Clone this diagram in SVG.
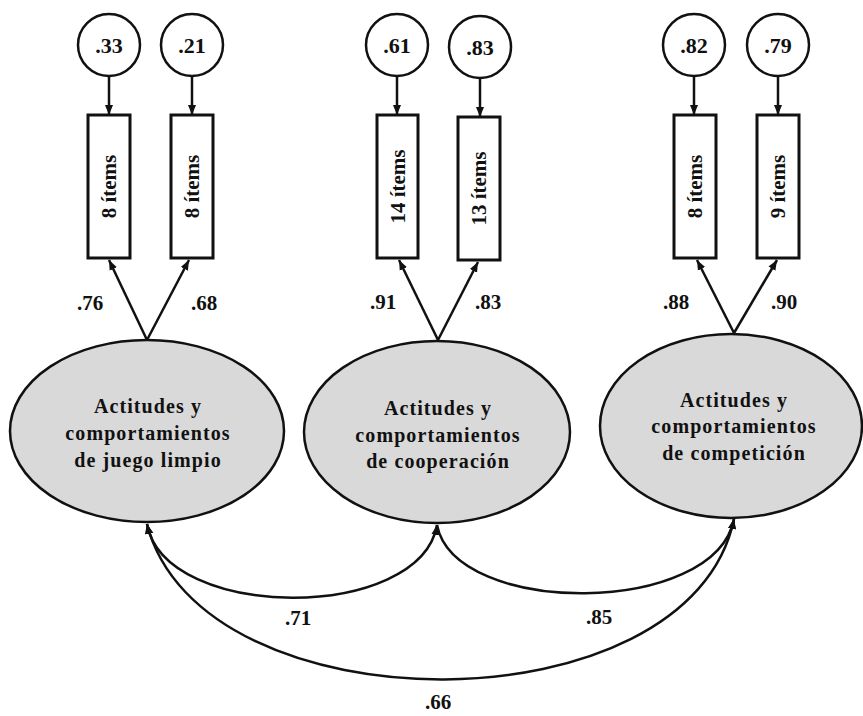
<svg xmlns="http://www.w3.org/2000/svg" width="863" height="716" viewBox="0 0 863 716">
<defs>
<style>
.t{font-family:"Liberation Serif","Times New Roman",serif;font-weight:bold;fill:#111;text-anchor:middle}
.c{fill:#fff;stroke:#111;stroke-width:2.5}
.b{fill:#fff;stroke:#111;stroke-width:3}
.e{fill:#d9d9d9;stroke:#111;stroke-width:2.5}
.a{fill:none;stroke:#111;stroke-width:2.5}
.num{font-size:22px}
.lab{font-size:21px}
.box{font-size:21px}
.el{font-size:20px;letter-spacing:1.1px}
</style>
<marker id="ah" viewBox="0 0 10 10" refX="10" refY="5" markerWidth="10" markerHeight="10" markerUnits="userSpaceOnUse" orient="auto-start-reverse">
<path d="M0,1 L10,5 L0,9 Z" fill="#111"/>
</marker>
</defs>
<rect width="863" height="716" fill="#fff"/>

<g id="connectors">
<line class="a" x1="109" y1="76" x2="109" y2="115" marker-end="url(#ah)"/>
<line class="a" x1="192" y1="76" x2="192" y2="115" marker-end="url(#ah)"/>
<line class="a" x1="397" y1="76" x2="397" y2="115" marker-end="url(#ah)"/>
<line class="a" x1="480" y1="78" x2="480" y2="117" marker-end="url(#ah)"/>
<line class="a" x1="694" y1="76" x2="694" y2="115" marker-end="url(#ah)"/>
<line class="a" x1="778" y1="76" x2="778" y2="115" marker-end="url(#ah)"/>
<line class="a" x1="147" y1="340" x2="109" y2="260" marker-end="url(#ah)"/>
<line class="a" x1="147" y1="340" x2="189" y2="260" marker-end="url(#ah)"/>
<line class="a" x1="438" y1="340" x2="399" y2="260" marker-end="url(#ah)"/>
<line class="a" x1="438" y1="340" x2="478" y2="262" marker-end="url(#ah)"/>
<line class="a" x1="734" y1="333" x2="697" y2="260" marker-end="url(#ah)"/>
<line class="a" x1="734" y1="333" x2="777" y2="260" marker-end="url(#ah)"/>
<path class="a" d="M147,524 C165,622 420,622 437,525" marker-start="url(#ah)" marker-end="url(#ah)"/>
<path class="a" d="M437,525 C455,617 715,617 734,519" marker-end="url(#ah)"/>
<path class="a" d="M147,524 C200,732 690,732 734,519" marker-start="url(#ah)" marker-end="url(#ah)"/>
<text class="t lab" x="298" y="625">.71</text>
<text class="t lab" x="599" y="624">.85</text>
<text class="t lab" x="438" y="709">.66</text>
<text class="t lab" x="90" y="310">.76</text>
<text class="t lab" x="204" y="310">.68</text>
<text class="t lab" x="383" y="309">.91</text>
<text class="t lab" x="488" y="309">.83</text>
<text class="t lab" x="676" y="309">.88</text>
<text class="t lab" x="784" y="309">.90</text>
</g>

<g id="e1"><circle class="c" cx="109" cy="45" r="31"/><text class="t num" x="109" y="53">.33</text></g>
<g id="e2"><circle class="c" cx="192" cy="45" r="31"/><text class="t num" x="192" y="53">.21</text></g>
<g id="e3"><circle class="c" cx="397" cy="45" r="31"/><text class="t num" x="397" y="53">.61</text></g>
<g id="e4"><circle class="c" cx="480" cy="47" r="31"/><text class="t num" x="480" y="55">.83</text></g>
<g id="e5"><circle class="c" cx="694" cy="45" r="31"/><text class="t num" x="694" y="53">.82</text></g>
<g id="e6"><circle class="c" cx="778" cy="45" r="31"/><text class="t num" x="778" y="53">.79</text></g>

<g id="i1"><rect class="b" x="88" y="115" width="42" height="143"/><text class="t box" transform="translate(116,186.5) rotate(-90)">8 ítems</text></g>
<g id="i2"><rect class="b" x="171" y="115" width="42" height="143"/><text class="t box" transform="translate(199,186.5) rotate(-90)">8 ítems</text></g>
<g id="i3"><rect class="b" x="377" y="115" width="41" height="143"/><text class="t box" transform="translate(404.5,186.5) rotate(-90)">14 ítems</text></g>
<g id="i4"><rect class="b" x="458" y="117" width="42" height="143"/><text class="t box" transform="translate(486,188.5) rotate(-90)">13 ítems</text></g>
<g id="i5"><rect class="b" x="674" y="115" width="42" height="143"/><text class="t box" transform="translate(702,186.5) rotate(-90)">8 ítems</text></g>
<g id="i6"><rect class="b" x="757" y="115" width="42" height="143"/><text class="t box" transform="translate(785,186.5) rotate(-90)">9 ítems</text></g>

<g id="f1"><ellipse class="e" cx="147" cy="431" rx="137" ry="91"/>
<text class="t el" x="148" y="413">Actitudes y</text>
<text class="t el" x="148" y="440">comportamientos</text>
<text class="t el" x="148" y="467">de juego limpio</text></g>
<g id="f2"><ellipse class="e" cx="437" cy="432" rx="133" ry="91"/>
<text class="t el" x="438" y="415">Actitudes y</text>
<text class="t el" x="438" y="442">comportamientos</text>
<text class="t el" x="438" y="468">de cooperación</text></g>
<g id="f3"><ellipse class="e" cx="731" cy="426" rx="131" ry="92"/>
<text class="t el" x="734" y="407">Actitudes y</text>
<text class="t el" x="734" y="433">comportamientos</text>
<text class="t el" x="734" y="460">de competición</text></g>
</svg>
